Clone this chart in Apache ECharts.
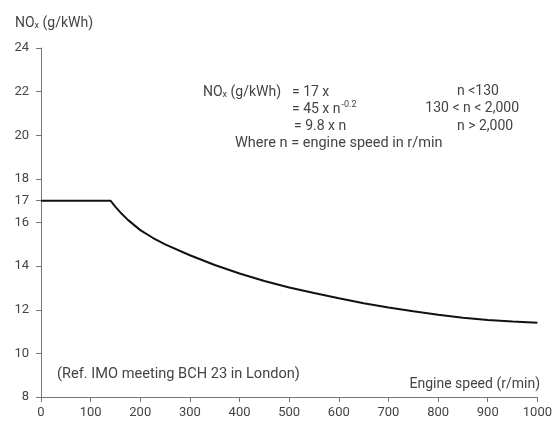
<!DOCTYPE html>
<html><head><meta charset="utf-8">
<script src="https://cdn.jsdelivr.net/npm/echarts@6/dist/echarts.min.js"></script>
<style>html,body{margin:0;padding:0;background:#fff}#c{width:555px;height:425px}</style>
</head><body><div id="c"></div>
<script>
const speeds = [0, 140, 150, 160, 175, 200, 225, 250, 300, 350, 400, 450, 500, 550, 600, 650, 700, 750, 800, 850, 900, 950, 1000];
const noxLimit = [17, 17, 16.72, 16.46, 16.12, 15.65, 15.3, 15.0, 14.5, 14.05, 13.66, 13.32, 13.02, 12.77, 12.53, 12.3, 12.1, 11.93, 11.77, 11.63, 11.53, 11.46, 11.4];
const xTicks = [0,100,200,300,400,500,600,700,800,900,1000];
const yTicks = [8,10,12,14,16,17,18,20,22,24];
const formulaLeft = ['= 17 x', '= 45 x n', '= 9.8 x n'];
const formulaRight = ['n <130', '130 < n < 2,000', 'n > 2,000'];

const FONT = 'Roboto, "Liberation Sans", sans-serif';
const TXT = '#444';
const FS = 14;
const chart = echarts.init(document.getElementById('c'), null, {renderer:'canvas'});
const data = speeds.map((s,i)=>[s, noxLimit[i]]);
const tstyle = (extra)=>Object.assign({fontFamily:FONT, fontSize:FS, fill:TXT}, extra);
const subRich = {s:{fontSize:9, fontFamily:FONT, fill:TXT, padding:[6,0,0,0]}};
chart.setOption({
  animation:false,
  grid:{left:41, right:16, top:48, bottom:28, containLabel:false},
  xAxis:{type:'value', min:0, max:1000, interval:100,
    axisLine:{lineStyle:{color:'#777', width:1}},
    axisTick:{show:true, length:5, lineStyle:{color:'#777'}, customValues:xTicks},
    axisLabel:{color:TXT, fontFamily:FONT, fontSize:13, margin:9, customValues:xTicks, formatter:(v)=>String(v)},
    splitLine:{show:false}},
  yAxis:{type:'value', min:8, max:24,
    axisLine:{show:true, lineStyle:{color:'#777', width:1}},
    axisTick:{show:true, length:5, lineStyle:{color:'#777'}, customValues: yTicks},
    axisLabel:{color:TXT, fontFamily:FONT, fontSize:13, margin:12, customValues: yTicks},
    splitLine:{show:false}},
  series:[{type:'line', data:data, smooth:false, showSymbol:false,
    lineStyle:{color:'#111', width:2}}],
  graphic:[
    {type:'text', x:15, y:23, style:tstyle({text:'NO{s|x} (g/kWh)', verticalAlign:'middle', rich:subRich})},
    {type:'text', x:203, y:92, style:tstyle({text:'NO{s|x} (g/kWh)', verticalAlign:'middle', rich:subRich})},
    {type:'text', x:292, y:92, style:tstyle({text:formulaLeft[0], verticalAlign:'middle'})},
    {type:'text', x:292, y:109, style:tstyle({text:formulaLeft[1]+'{p|-0.2}', verticalAlign:'middle', rich:{p:{fontSize:9, fontFamily:FONT, fill:TXT, padding:[0,0,9,1]}}})},
    {type:'text', x:294, y:126, style:tstyle({text:formulaLeft[2], verticalAlign:'middle'})},
    {type:'text', x:235, y:143, style:tstyle({text:'Where n = engine speed in r/min', verticalAlign:'middle', fontSize:14.5})},
    {type:'text', x:457, y:91, style:tstyle({text:formulaRight[0], verticalAlign:'middle'})},
    {type:'text', x:519, y:108, style:tstyle({text:formulaRight[1], verticalAlign:'middle', align:'right'})},
    {type:'text', x:457, y:126, style:tstyle({text:formulaRight[2], verticalAlign:'middle'})},
    {type:'text', x:57, y:374, style:tstyle({text:'(Ref. IMO meeting BCH 23 in London)', verticalAlign:'middle', fontSize:14.6})},
    {type:'text', x:540, y:384, style:tstyle({text:'Engine speed (r/min)', verticalAlign:'middle', align:'right'})}
  ]
});
</script></body></html>
